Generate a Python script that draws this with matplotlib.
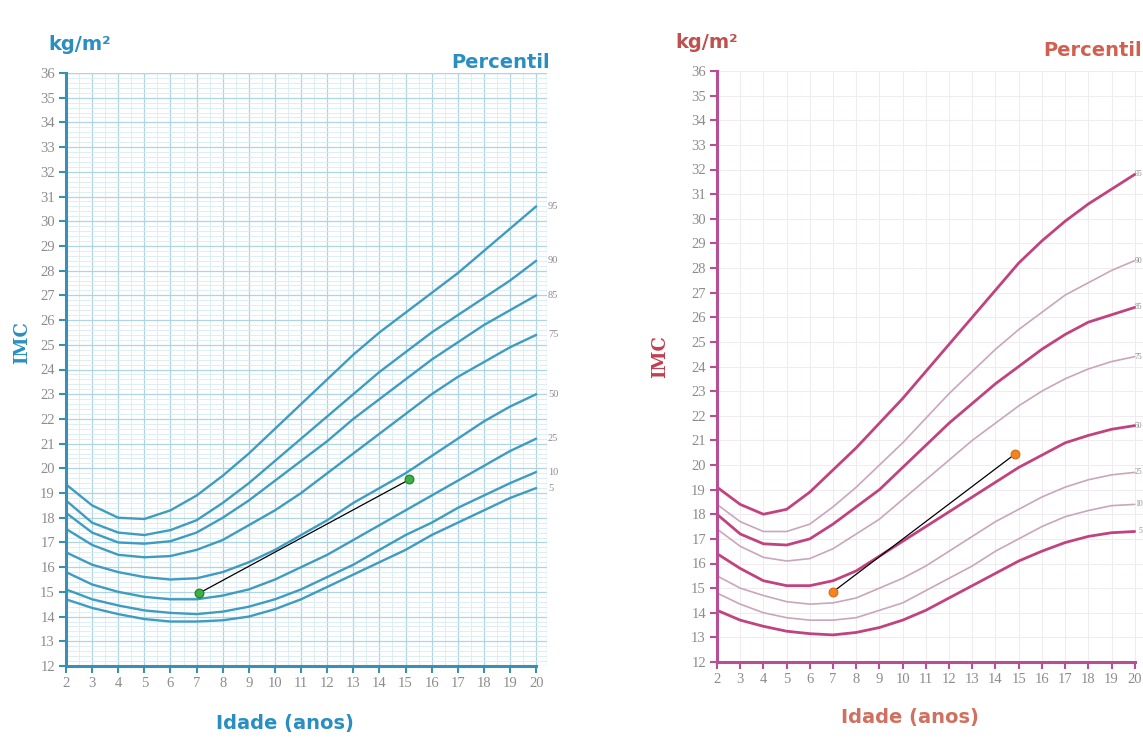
import numpy as np
import matplotlib.pyplot as plt
from matplotlib.ticker import MultipleLocator

# idades (anos) e percentis
idades = list(range(2, 21))
percentis = [95, 90, 85, 75, 50, 25, 10, 5]

# IMC meninos (grafico azul)
m_p95 = [19.35, 18.5, 18.0, 17.95, 18.3, 18.9, 19.7, 20.6, 21.6, 22.6, 23.6, 24.6, 25.5, 26.3, 27.1, 27.9, 28.8, 29.7, 30.6]
m_p90 = [18.7, 17.8, 17.4, 17.3, 17.5, 17.9, 18.6, 19.4, 20.3, 21.2, 22.1, 23.0, 23.9, 24.7, 25.5, 26.2, 26.9, 27.6, 28.4]
m_p85 = [18.2, 17.4, 17.0, 16.95, 17.05, 17.4, 18.0, 18.7, 19.5, 20.3, 21.1, 22.0, 22.8, 23.6, 24.4, 25.1, 25.8, 26.4, 27.0]
m_p75 = [17.55, 16.9, 16.5, 16.4, 16.45, 16.7, 17.1, 17.7, 18.3, 19.0, 19.8, 20.6, 21.4, 22.2, 23.0, 23.7, 24.3, 24.9, 25.4]
m_p50 = [16.6, 16.1, 15.8, 15.6, 15.5, 15.55, 15.8, 16.2, 16.7, 17.3, 17.9, 18.6, 19.2, 19.8, 20.5, 21.2, 21.9, 22.5, 23.0]
m_p25 = [15.8, 15.3, 15.0, 14.8, 14.7, 14.7, 14.85, 15.1, 15.5, 16.0, 16.5, 17.1, 17.7, 18.3, 18.9, 19.5, 20.1, 20.7, 21.2]
m_p10 = [15.1, 14.7, 14.45, 14.25, 14.15, 14.1, 14.2, 14.4, 14.7, 15.1, 15.6, 16.1, 16.7, 17.3, 17.8, 18.4, 18.9, 19.4, 19.85]
m_p5 = [14.7, 14.35, 14.1, 13.9, 13.8, 13.8, 13.85, 14.0, 14.3, 14.7, 15.2, 15.7, 16.2, 16.7, 17.3, 17.8, 18.3, 18.8, 19.2]

# IMC meninas (grafico rosa)
f_p95 = [19.1, 18.4, 18.0, 18.2, 18.9, 19.8, 20.7, 21.7, 22.7, 23.8, 24.9, 26.0, 27.1, 28.2, 29.1, 29.9, 30.6, 31.2, 31.8]
f_p90 = [18.4, 17.7, 17.3, 17.3, 17.6, 18.3, 19.1, 20.0, 20.9, 21.9, 22.9, 23.8, 24.7, 25.5, 26.2, 26.9, 27.4, 27.9, 28.3]
f_p85 = [18.0, 17.2, 16.8, 16.75, 17.0, 17.6, 18.3, 19.0, 19.9, 20.8, 21.7, 22.5, 23.3, 24.0, 24.7, 25.3, 25.8, 26.1, 26.4]
f_p75 = [17.4, 16.7, 16.25, 16.1, 16.2, 16.6, 17.2, 17.8, 18.6, 19.4, 20.2, 21.0, 21.7, 22.4, 23.0, 23.5, 23.9, 24.2, 24.4]
f_p50 = [16.4, 15.8, 15.3, 15.1, 15.1, 15.3, 15.7, 16.3, 16.9, 17.5, 18.1, 18.7, 19.3, 19.9, 20.4, 20.9, 21.2, 21.45, 21.6]
f_p25 = [15.5, 15.0, 14.7, 14.45, 14.35, 14.4, 14.6, 15.0, 15.4, 15.9, 16.5, 17.1, 17.7, 18.2, 18.7, 19.1, 19.4, 19.6, 19.7]
f_p10 = [14.8, 14.35, 14.0, 13.8, 13.7, 13.7, 13.8, 14.1, 14.4, 14.9, 15.4, 15.9, 16.5, 17.0, 17.5, 17.9, 18.15, 18.35, 18.4]
f_p5 = [14.1, 13.7, 13.45, 13.25, 13.15, 13.1, 13.2, 13.4, 13.7, 14.1, 14.6, 15.1, 15.6, 16.1, 16.5, 16.85, 17.1, 17.25, 17.3]

# pontos marcados
menino_idade = [7.1, 15.15]
menino_imc = [14.95, 19.55]
menina_idade = [7.0, 14.85]
menina_imc = [14.85, 20.45]

curvas_m = [m_p95, m_p90, m_p85, m_p75, m_p50, m_p25, m_p10, m_p5]
curvas_f = [f_p95, f_p90, f_p85, f_p75, f_p50, f_p25, f_p10, f_p5]

W, H = 1143, 738
fig = plt.figure(figsize=(W / 100, H / 100), dpi=100)

def box(x0, x1, ytop, ybot):
    return [x0 / W, 1 - ybot / H, (x1 - x0) / W, (ybot - ytop) / H]

ax1 = fig.add_axes(box(66, 546.6, 73, 666))
ax2 = fig.add_axes(box(717, 1144, 71, 662))

def base_axes(ax, cor_eixo):
    ax.set_xlim(2, 20.4)
    ax.set_ylim(12, 36)
    ax.set_xticks(range(2, 21))
    ax.set_yticks(range(12, 37))
    for s in ['top', 'right']:
        ax.spines[s].set_visible(False)
    for s in ['left', 'bottom']:
        ax.spines[s].set_color(cor_eixo)
        ax.spines[s].set_linewidth(2.2)
    ax.spines['bottom'].set_bounds(2, 20)
    ax.tick_params(which='major', direction='out', length=5, width=1.5,
                   color=cor_eixo, pad=3)
    ax.tick_params(which='minor', length=0)
    for lab in ax.get_xticklabels() + ax.get_yticklabels():
        lab.set_fontfamily('Liberation Serif')
        lab.set_fontsize(10.5)
        lab.set_color('#8c8c8c')
    ax.set_axisbelow(True)

titulo = dict(fontsize=14, fontweight='bold', family='DejaVu Sans',
              ha='center', va='center')

# ---- grafico azul ----
azul = '#3f9cc0'
base_axes(ax1, '#3a8fb5')
ax1.xaxis.set_minor_locator(MultipleLocator(0.5))
ax1.yaxis.set_minor_locator(MultipleLocator(0.2))
ax1.grid(which='major', color='#add5e4', lw=0.9)
ax1.grid(which='minor', color='#d8ecf3', lw=0.6)
ax1.axvline(20.4, color='#add5e4', lw=0.9)
ax1.axhline(36, color='#add5e4', lw=0.9)

for p, c in zip(percentis, curvas_m):
    ax1.plot(idades, c, color=azul, lw=1.7, solid_capstyle='round')
    ax1.text(20.45, c[-1], str(p), fontsize=7.5, family='Liberation Serif',
             color='#8c8c8c', va='center', ha='left')

ax1.plot(menino_idade, menino_imc, color='black', lw=0.9, zorder=4)
ax1.scatter(menino_idade, menino_imc, s=40, color='#3cb043',
            edgecolor='#1f7a2a', lw=0.8, zorder=5)

fig.text(80 / W, 1 - 45 / H, 'kg/m²', color='#2a8fc0', **titulo)
fig.text(501 / W, 1 - 62 / H, 'Percentil', color='#2a8fc0', **titulo)
fig.text(22 / W, 1 - 343 / H, 'IMC', fontsize=13, fontweight='bold',
         family='DejaVu Serif', color='#2a8fc0', rotation=90,
         ha='center', va='center')
fig.text(285 / W, 1 - 723 / H, 'Idade (anos)', color='#2a8fc0', **titulo)

# ---- grafico rosa ----
base_axes(ax2, '#b84e96')
ax2.grid(which='major', color='#f1eaee', lw=0.7)
forte = '#c0437f'
fraco = '#c9a6bb'
for p, c in zip(percentis, curvas_f):
    grossa = p in (95, 85, 50, 5)
    ax2.plot(idades, c, color=forte if grossa else fraco,
             lw=2.0 if grossa else 1.2, solid_capstyle='round')
    yf = ax2.transData.transform((20, c[-1]))[1] / H
    fig.text(1142.5 / W, yf, str(p), fontsize=5.5, family='Liberation Serif',
             color='#8c8c8c', va='center', ha='right')

ax2.plot(menina_idade, menina_imc, color='black', lw=0.9, zorder=4)
ax2.scatter(menina_idade, menina_imc, s=40, color='#f5841f',
            edgecolor='#d86a10', lw=0.8, zorder=5)

fig.text(707 / W, 1 - 42 / H, 'kg/m²', color='#c0504d', **titulo)
fig.text(1142 / W, 1 - 50 / H, 'Percentil', color='#d06050',
         **{**titulo, 'ha': 'right'})
fig.text(660 / W, 1 - 357 / H, 'IMC', fontsize=13, fontweight='bold',
         family='DejaVu Serif', color='#c04050', rotation=90,
         ha='center', va='center')
fig.text(910 / W, 1 - 717 / H, 'Idade (anos)', color='#d07060', **titulo)

fig.savefig('out.png', dpi=100)
